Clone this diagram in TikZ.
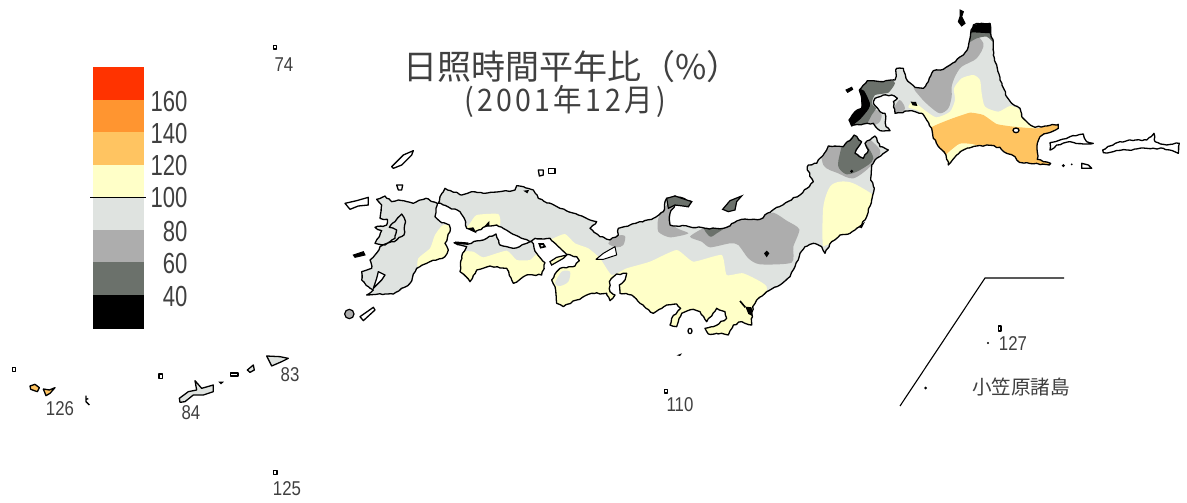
\documentclass[tikz,border=0pt]{standalone}
\usepackage{fontspec}
\usetikzlibrary{decorations.pathmorphing}
\setmainfont{Liberation Sans}
\newfontfamily\cjk{Noto Sans CJK JP}
\newfontfamily\numfont[FakeStretch=0.76]{Liberation Sans}
\newfontfamily\smallnum[FakeStretch=0.84]{Liberation Sans}
\newfontfamily\cjknarrow[FakeStretch=0.92,LetterSpace=11]{Noto Sans CJK JP}
\definecolor{cRed}{HTML}{FF3300}
\definecolor{cOrg}{HTML}{FF9530}
\definecolor{cLor}{HTML}{FFC461}
\definecolor{cYel}{HTML}{FFFFC8}
\definecolor{cLgr}{HTML}{DFE3E0}
\definecolor{cMgr}{HTML}{ADADAD}
\definecolor{cDgr}{HTML}{6B716B}
\definecolor{cTxt}{HTML}{404040}
\tikzset{
  coast/.style={draw=black,line width=1.3pt,line join=round,decorate,decoration={random steps,segment length=3.2pt,amplitude=.8pt}},
  isle/.style={draw=black,line width=1.3pt,line join=round,fill=white},
  solid isle/.style={draw=black,line width=1pt,fill=black},
  land/.style={fill=cLgr},
  legendlabel/.style={font=\numfont\fontsize{29}{29}\selectfont,text=cTxt,anchor=east,inner sep=0pt},
  maplabel/.style={font=\smallnum\fontsize{20}{20}\selectfont,text=cTxt,inner sep=0pt},
  zb/.style={shift={(560,130)},scale=1/3},
  za/.style={shift={(780,0)},scale=1/3},
  zc/.style={shift={(330,140)},scale=1/3},
  zd/.style={shift={(0,340)},scale=1/3},
}
\def\hokkaido{plot coordinates {(572,100)(580,75)(605,70)(630,70)(632,100)(640,130)(640,165)(650,195)(660,240)(680,290)(695,310)(720,325)(725,350)(745,370)(765,382)(800,378)(835,373)(835,385)(800,400)(780,410)(772,430)(772,478)(790,485)(812,490)(808,495)(770,490)(740,488)(718,487)(705,470)(680,460)(660,442)(620,435)(590,438)(550,450)(530,465)(505,495)(498,465)(480,445)(460,415)(455,385)(440,360)(425,340)(395,332)(345,340)(340,305)(352,295)(335,285)(310,285)(285,295)(280,310)(300,335)(315,340)(318,380)(330,392)(300,392)(280,370)(250,372)(215,378)(207,360)(225,335)(245,325)(245,295)(238,270)(262,242)(310,245)(345,240)(350,205)(370,205)(378,235)(405,262)(430,265)(445,245)(460,212)(490,208)(510,195)(550,165)(565,140)} -- cycle}
\def\honshu{plot coordinates {(745,105)(770,100)(800,60)(805,48)(850,50)(882,15)(905,35)(885,70)(910,85)(925,60)(915,40)(945,18)(960,50)(985,60)(950,85)(935,105)(932,150)(943,175)(935,210)(920,260)(900,290)(870,310)(840,315)(815,335)(795,370)(785,350)(760,340)(735,350)(720,370)(705,410)(690,440)(660,465)(630,480)(590,510)(578,530)(575,585)(545,575)(520,585)(505,615)(470,610)(445,612)(435,595)(460,590)(500,565)(495,545)(470,535)(440,575)(420,545)(400,538)(365,550)(350,590)(330,585)(335,565)(362,535)(350,522)(320,525)(280,550)(240,520)(215,495)(180,490)(178,465)(195,450)(200,430)(170,432)(148,455)(150,485)(165,495)(150,512)(140,490)(95,490)(50,510)(10,530)(-10,520)(-15,470)(-25,450)(0,415)(45,408)(58,392)(50,380)(20,373)(-5,350)(-30,325)(-75,325)(-90,335)(-135,315)(-190,285)(-220,288)(-255,305)(-280,295)(-285,270)(-300,245)(-350,225)(-365,220)(-360,200)(-345,175)(-295,195)(-265,185)(-230,190)(-135,180)(-130,167)(-80,180)(-65,205)(0,235)(55,255)(90,270)(110,275)(90,295)(120,320)(150,330)(175,315)(175,295)(210,285)(280,265)(310,245)(320,205)(345,198)(395,215)(385,230)(345,225)(330,250)(330,285)(440,295)(490,295)(545,268)(600,268)(650,232)(720,195)(760,155)(742,120)} -- cycle}
\def\kyushu{plot coordinates {(322,190)(288,175)(250,190)(205,180)(185,185)(165,168)(140,178)(155,195)(150,235)(172,238)(170,255)(135,262)(155,272)(135,310)(165,315)(200,300)(222,285)(225,240)(215,222)(195,245)(178,262)(200,270)(195,295)(150,320)(135,345)(120,360)(125,385)(95,395)(95,420)(115,440)(130,450)(110,465)(165,462)(190,462)(240,430)(260,385)(290,370)(345,350)(355,330)(345,310)(360,275)(358,255)(335,248)(315,230)(318,205)} -- cycle}
\def\shikoku{plot coordinates {(372,308)(415,312)(470,295)(498,282)(510,315)(550,325)(590,310)(605,305)(620,340)(645,368)(635,405)(590,405)(550,430)(530,385)(480,378)(440,390)(420,425)(390,395)(395,350)(410,320)} -- cycle}
\begin{document}
\begin{tikzpicture}[x=1pt,y=-1pt]
\useasboundingbox (0,0) rectangle (1187,503);
\fill[white] (0,0) rectangle (1187,503);

% ---------- legend
\fill[cRed] (93,67) rectangle (143.5,100);
\fill[cOrg] (93,100) rectangle (143.5,132);
\fill[cLor] (93,132) rectangle (143.5,165);
\fill[cYel] (93,165) rectangle (143.5,197);
\fill[cLgr] (93,198) rectangle (143.5,230);
\fill[cMgr] (93,230) rectangle (143.5,262);
\fill[cDgr] (93,262) rectangle (143.5,295);
\fill[black] (93,295) rectangle (143.5,329);
\draw[line width=1.2pt] (90,197.5) -- (146,197.5);
\node[legendlabel] (l160) at (187.5,102) {160};
\node[legendlabel] (l140) at (187.5,134) {140};
\node[legendlabel] (l120) at (187.5,166) {120};
\node[legendlabel] (l100) at (187.5,198) {100};
\node[legendlabel] (l80) at (187.5,232) {80};
\node[legendlabel] (l60) at (187.5,264) {60};
\node[legendlabel] (l40) at (187.5,297) {40};

% ---------- title
\node[font=\cjk\fontsize{34}{34}\selectfont,text=cTxt,inner sep=0pt] (t1) at (572,67) {日照時間平年比（\%）};
\node[font=\cjknarrow\fontsize{31}{31}\selectfont,text=cTxt,inner sep=0pt] (t2) at (565,101) {(2001年12月)};

% ---------- Honshu
\begin{scope}[zb]
\fill[land] \honshu;
\begin{scope}
\clip \honshu;
\fill[cYel] plot[smooth cycle,tension=.5] coordinates {(790,230)(810,170)(840,155)(880,160)(945,200)(945,235)(905,295)(860,325)(800,345)(788,340)};
\fill[cMgr] plot[smooth cycle,tension=.5] coordinates {(790,105)(835,130)(880,145)(930,110)(960,60)(880,0)(790,30)};
\fill[cDgr] plot[smooth cycle,tension=.5] coordinates {(835,110)(860,133)(900,120)(940,85)(900,20)(860,5)(840,70)};
\fill[cMgr] plot[smooth cycle,tension=.4] coordinates {(390,320)(440,290)(490,285)(545,260)(600,260)(640,248)(680,272)(718,298)(700,350)(695,398)(600,403)(565,385)(535,345)(510,340)(450,352)(425,335)};
\fill[cMgr] plot[smooth cycle,tension=.4] coordinates {(295,305)(295,265)(320,225)(345,240)(345,290)(385,310)(330,322)};
\fill[cDgr] plot[smooth cycle,tension=.5] coordinates {(432,290)(495,290)(470,310)(450,320)};
\fill[cYel] plot[smooth cycle,tension=.3] coordinates {(-20,325)(15,312)(45,340)(85,355)(120,385)(155,435)(200,415)(270,395)(350,360)(400,395)(485,375)(500,435)(550,430)(620,470)(600,560)(570,640)(400,640)(100,560)(-60,560)(-60,440)(-50,340)};
\fill[cLgr] plot[smooth cycle,tension=.5] coordinates {(-15,460)(5,425)(30,425)(25,455)(0,468)};
\fill[cYel] plot[smooth cycle,tension=.3] coordinates {(-270,280)(-250,255)(-185,252)(-180,285)(-220,292)(-260,310)(-285,300)};
\fill[cMgr] plot[smooth cycle,tension=.5] coordinates {(145,340)(170,318)(195,318)(190,345)(170,352)};
\end{scope}
\draw[coast] \honshu;
% inner lake and black spots
\draw[isle,line width=1pt] plot coordinates {(108,388)(130,370)(165,350)(170,375)(130,388)} -- cycle;
\fill[black] (620,362) -- (628,370) -- (620,382) -- (612,370) -- cycle;
\fill[black] (875,124) circle (5);
\draw[line width=1.6pt] (540,513) -- (556,532);
\fill[black] (556,530) -- (575,532) -- (577,558) -- (565,552) -- cycle;
\fill[black] (895,290) -- (915,275) -- (905,295) -- cycle;
% Sado, Awaji, Izu
\draw[draw=black,line width=1.2pt,fill=cDgr] plot coordinates {(488,238)(510,212)(545,198)(530,215)(525,240)(505,245)} -- cycle;
\draw[draw=black,line width=1.2pt,fill=cDgr] plot coordinates {(320,205)(345,198)(395,215)(385,230)(345,225)(325,235)} -- cycle;
\draw[isle] (390,603) ellipse (6 and 8);
\fill[black] (350,676) -- (366,670) -- (360,678) -- cycle;
\end{scope}

% ---------- Kyushu, Shikoku, small islands
\begin{scope}[zc]
\fill[land] \kyushu;
\begin{scope}
\clip \kyushu;
\fill[cYel] plot[smooth cycle,tension=.4] coordinates {(265,355)(300,325)(315,285)(340,255)(375,265)(375,350)(270,385)};
\end{scope}
\draw[coast] \kyushu;
\draw[isle] plot coordinates {(145,395)(165,405)(155,420)(130,445)(140,415)} -- cycle;
\fill[land] \shikoku;
\begin{scope}
\clip \shikoku;
\fill[cYel] plot[smooth cycle,tension=.3] coordinates {(395,340)(430,335)(460,352)(530,332)(560,360)(600,360)(625,340)(670,375)(640,440)(380,450)};
\end{scope}
\draw[coast] \shikoku;
\draw[line width=2.4pt] (375,308) -- (415,311);
% Awaji
\draw[draw=black,line width=1.2pt,fill=cYel] plot coordinates {(660,365)(680,352)(710,345)(700,355)(665,375)} -- cycle;
% Shodoshima etc
\draw[draw=black,line width=1.6pt,fill=cLgr] plot coordinates {(628,312)(640,312)(645,320)(632,323)} -- cycle;
\fill[black] (462,260) -- (478,243) -- (478,258) -- cycle;
\fill[black] (410,265) -- (430,262) -- (440,280) -- (425,272) -- cycle;
\fill[black] (580,152) -- (597,150) -- (592,160) -- cycle;
% Tsushima, Iki, Goto, Amakusa
\draw[isle] plot coordinates {(185,80)(220,45)(250,32)(245,45)(215,75)(190,85)} -- cycle;
\draw[isle] plot coordinates {(200,135)(218,135)(215,150)(205,150)} -- cycle;
\draw[isle] plot coordinates {(45,190)(80,182)(115,172)(115,195)(85,198)(60,208)} -- cycle;
\draw[solid isle] plot coordinates {(70,345)(100,335)(105,345)(75,352)} -- cycle;
% Oki
\draw[isle] plot coordinates {(625,90)(640,90)(640,105)(628,108)} -- cycle;
\draw[isle] plot coordinates {(655,85)(675,85)(675,100)(655,100)} -- cycle;
% Osumi
\draw[draw=black,line width=1.2pt,fill=cMgr] (58,522) circle (14);
\draw[isle] plot coordinates {(90,530)(130,502)(135,510)(100,542)} -- cycle;
\end{scope}

% ---------- Hokkaido
\begin{scope}[za]
\fill[land] \hokkaido;
\begin{scope}
\clip \hokkaido;
\fill[cMgr] plot[smooth cycle,tension=.5] coordinates {(560,90)(610,130)(590,175)(545,200)(525,230)(515,260)(515,290)(505,325)(480,340)(450,320)(420,290)(400,255)(440,200)(500,170)};
\fill[cDgr] plot[smooth cycle,tension=.5] coordinates {(560,125)(590,115)(620,110)(645,125)(650,50)(560,50)};
\fill[black] (560,100) -- (580,97) -- (632,100) -- (640,50) -- (560,50) -- cycle;
\fill[cYel] plot[smooth cycle,tension=.4] coordinates {(522,265)(545,235)(580,225)(600,240)(605,280)(615,320)(655,335)(690,318)(720,330)(770,395)(690,385)(640,372)(600,345)(560,345)(510,360)(470,385)(450,390)(430,345)(410,330)(385,322)(400,305)(440,335)(470,352)(510,335)(525,300)};
\fill[cLor] plot[smooth cycle,tension=.25] coordinates {(450,385)(510,358)(570,338)(610,345)(650,372)(700,380)(770,385)(845,368)(845,400)(830,520)(650,520)(500,510)(440,450)};
\fill[cYel] plot[smooth cycle,tension=.5] coordinates {(520,445)(545,430)(590,436)(560,450)(530,468)(505,495)(495,470)};
% Oshima
\fill[cMgr] plot[smooth cycle,tension=.5] coordinates {(265,345)(285,328)(305,345)(295,370)(260,378)};
\fill[cDgr] plot[smooth cycle,tension=.3] coordinates {(325,232)(345,250)(325,278)(285,285)(275,310)(288,325)(275,345)(255,378)(195,390)(190,260)(260,230)};
\fill[black] plot[smooth cycle,tension=.4] coordinates {(236,270)(252,272)(270,310)(265,328)(240,358)(212,378)(203,360)(225,335)(245,320)};
\fill[cMgr] plot[smooth cycle,tension=.5] coordinates {(358,300)(375,325)(355,345)(335,340)};
\end{scope}
\draw[coast] \hokkaido;
\draw[isle] (708,391) ellipse (9 and 7);
\fill[black] (392,305) -- (408,306) -- (412,318) -- (398,316) -- cycle;
% Rishiri, Rebun, Okushiri
\draw[solid isle] plot coordinates {(540,30)(550,35)(545,50)(555,70)(545,78)(535,65)(540,50)} -- cycle;
\draw[solid isle] plot coordinates {(198,270)(215,262)(218,268)(203,277)} -- cycle;
% Kuriles
\draw[isle,coast] plot coordinates {(810,428)(840,420)(870,410)(910,402)(920,425)(940,430)(910,432)(870,425)(830,435)(810,450)} -- cycle;
\draw[isle,coast] plot coordinates {(968,450)(990,438)(1020,425)(1065,420)(1100,420)(1122,400)(1125,425)(1160,435)(1198,430)(1195,460)(1150,445)(1100,445)(1040,450)(1000,455)(970,458)} -- cycle;
\draw[isle] plot coordinates {(905,490)(925,495)(935,505)(905,505)} -- cycle;
\fill[black] (850,497) circle (5);
\fill[black] (875,493) circle (3);
\end{scope}

% ---------- southwest islands
\begin{scope}[zd]
\draw[isle,fill=cLor] plot coordinates {(90,138)(105,133)(118,143)(112,155)(92,148)} -- cycle;
\draw[isle,fill=cLor] plot coordinates {(130,147)(148,150)(165,143)(150,160)(138,167)} -- cycle;
\draw[draw=black,line width=1.3pt] (258,167) -- (258,185) -- (268,195) (258,178) -- (265,176);
\draw[isle] (37,83) rectangle (47,94);
\draw[isle] (477,102) rectangle (488,116);
\draw[isle,fill=cLgr] plot coordinates {(538,175)(565,155)(590,150)(585,122)(605,145)(640,135)(640,155)(610,165)(580,165)(555,185)(540,187)} -- cycle;
\fill[black] (655,125) -- (672,125) -- (663,133) -- cycle;
\draw[isle] (692,99) rectangle (714,108);
\draw[isle,fill=cLgr] plot coordinates {(742,90)(760,75)(763,90)(750,97)} -- cycle;
\draw[isle,fill=cLgr] plot coordinates {(800,48)(840,50)(865,55)(845,65)(815,78)} -- cycle;
\draw[isle] (820,391) rectangle (831,403);
\end{scope}

% ---------- other small islands
\draw[isle] (273.5,45.5) rectangle (276.5,49);
\draw[isle] (664.5,389.5) rectangle (667.5,393);
\draw[isle] (998.5,326) rectangle (1001,331);
\fill[black] (988,343) circle (1.2);
\fill[black] (925.5,388) circle (1.5);

% ---------- labels
\node[maplabel] (n74) at (284,65) {74};
\node[maplabel] (n83) at (290,375) {83};
\node[maplabel] (n84) at (191,413) {84};
\node[maplabel] (n126) at (60,409) {126};
\node[maplabel] (n110) at (680,405) {110};
\node[maplabel] (n125) at (287,489) {125};
\node[maplabel] (n127) at (1013,344) {127};
\node[font=\cjk\fontsize{19.6}{19}\selectfont,text=cTxt,inner sep=0pt] (ogasawara) at (1021,387) {小笠原諸島};

% ---------- inset frame
\coordinate (fa) at (900,406);
\coordinate (fb) at (985,278);
\coordinate (fc) at (1064,278);
\draw[line width=1.1pt] (fa) -- (fb) -- (fc);
\end{tikzpicture}
\end{document}
